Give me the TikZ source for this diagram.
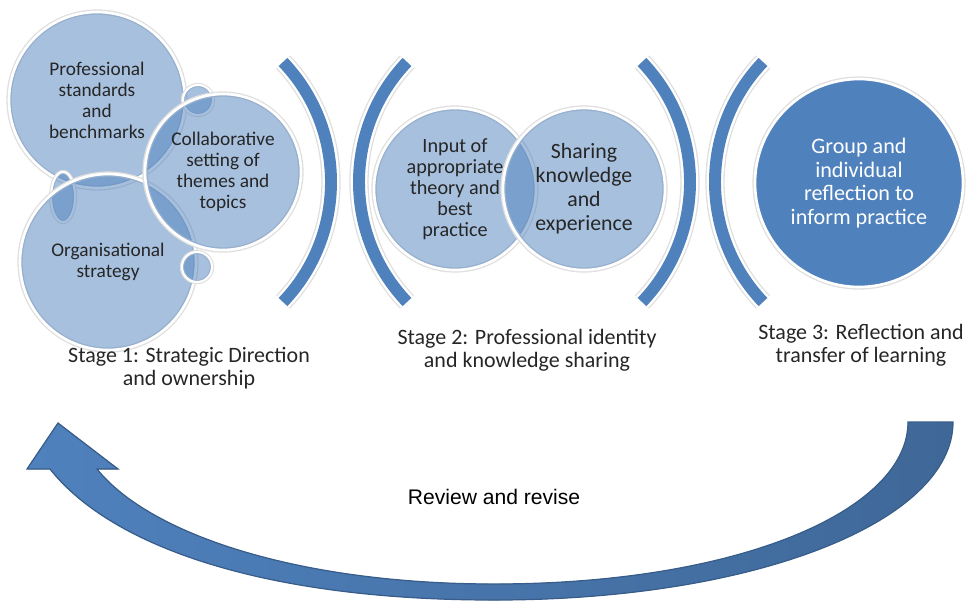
\documentclass[tikz,border=0pt]{standalone}
\usepackage{fontspec}
\setmainfont{Carlito}
\newfontfamily\arialfont{Liberation Sans}
\usetikzlibrary{calc,positioning}
\usepackage{xcolor}
\definecolor{accent}{HTML}{4F81BD}
\definecolor{accentdark}{HTML}{3F6898}
\definecolor{edgeblue}{HTML}{385D8A}
\definecolor{inktext}{HTML}{262626}

\tikzset{
  bubble/.style={circle, inner sep=0pt, align=center, minimum size=#1,
    fill=accent, fill opacity=0.5, text opacity=1, text=inktext,
    draw=white, line width=1.5pt, preaction={draw=gray!25, line width=3pt},
    font=\fontsize{11}{12}\selectfont},
  smallbub/.style={fill=accent, fill opacity=0.5, draw=white, line width=1.2pt,
    preaction={draw=gray!25, line width=2.4pt}},
  bracket/.style={draw=accent, line width=6.8pt,
    preaction={draw=gray!25, line width=11pt},
    preaction={draw=white, line width=9.5pt}},
  stagelabel/.style={align=center, text=inktext, font=\fontsize{12.5}{13.2}\selectfont}
}

\begin{document}
\begin{tikzpicture}[x=0.02cm, y=-0.02cm]
\useasboundingbox (0,0) rectangle (967,600);

% Stage 1 bubbles
\node[bubble=3.52cm] (prof) at (97,100) {Professional\\standards\\and\\benchmarks};
\draw[smallbub] (63,197) ellipse [x radius=0.24cm, y radius=0.5cm];
\node[bubble=3.52cm] (org) at (108,262) {Organisational\\strategy};
\draw[smallbub] (198,100) circle [radius=0.3cm];
\draw[smallbub] (197,267) circle [radius=0.3cm];
\node[bubble=3.12cm] (collab) at (223,172) {Collaborative\\setting of\\themes and\\topics};

% Stage 2 bubbles
\node[bubble=3.24cm, font=\fontsize{11.5}{12}\selectfont] (inp) at (455,189) {Input of\\appropriate\\theory and\\best\\practice};
\node[bubble=3.24cm, font=\fontsize{12.4}{13.7}\selectfont] (shar) at (584,189) {Sharing\\knowledge\\and\\experience};

% Stage 3 bubble
\node[bubble=4.16cm, fill opacity=1, text=white, font=\fontsize{12.6}{13.5}\selectfont] (grp) at (859,183) {Group and\\individual\\reflection to\\inform practice};

% Brackets between the stages
\foreach \x/\d in {283/1, 407/-1, 642/1, 763/-1} {
    \draw[bracket] (\x,62) .. controls ({\x+64*\d},129) and ({\x+64*\d},235) .. (\x,302);
}

% Stage labels
\node[stagelabel] (lab1) at (189,368) {Stage 1: Strategic Direction\\and ownership};
\node[stagelabel] (lab2) at (527,350) {Stage 2: Professional identity\\and knowledge sharing};
\node[stagelabel] (lab3) at (861,345) {Stage 3: Reflection and\\transfer of learning};

% Review arrow
\fill[left color=accent, right color=accentdark, draw=edgeblue, line width=0.7pt]
  (953,422) .. controls (953,520) and (760,600) .. (494,600)
  .. controls (260,600) and (110,545) .. (50,469)
  -- (27,469) -- (58,423) -- (118,469) -- (97,469)
  .. controls (150,535) and (300,584) .. (494,584)
  .. controls (740,584) and (908,510) .. (908,422) -- cycle;
\node[font=\arialfont\fontsize{12}{14}\selectfont, text=black] (rev) at (494,497) {Review and revise};

\end{tikzpicture}
\end{document}
